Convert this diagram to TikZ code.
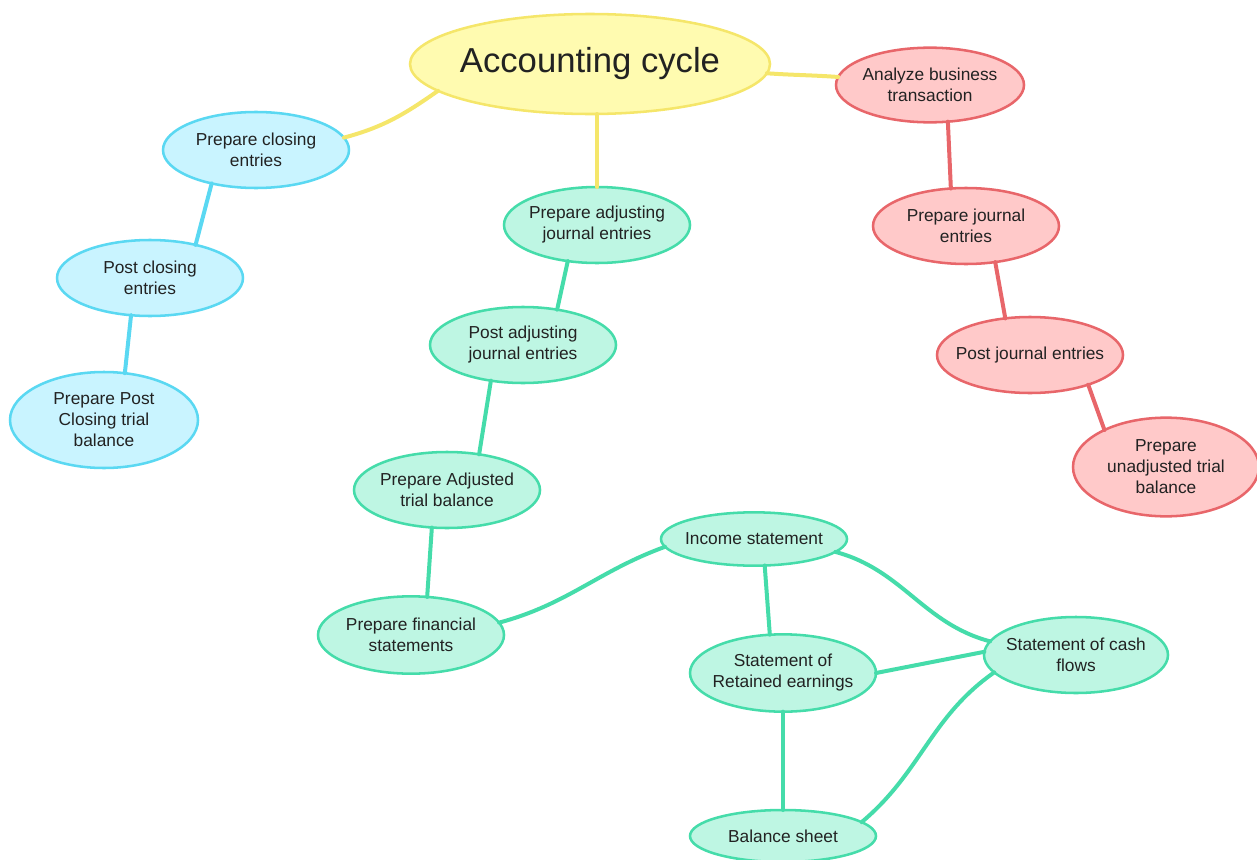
\documentclass[tikz,border=0pt]{standalone}
\usepackage{fontspec}
\setmainfont{Liberation Sans}
\usetikzlibrary{shapes.geometric}
\definecolor{ylwfill}{HTML}{FFFBB0}
\definecolor{ylwline}{HTML}{F5E66A}
\definecolor{redfill}{HTML}{FFC9C9}
\definecolor{redline}{HTML}{E8666A}
\definecolor{cyanfill}{HTML}{C9F4FF}
\definecolor{cyanline}{HTML}{5AD8F2}
\definecolor{grnfill}{HTML}{BEF6E3}
\definecolor{grnline}{HTML}{45DCAA}
\definecolor{txt}{HTML}{222222}
\begin{document}
\begin{tikzpicture}[x=0.75pt,y=-0.75pt,
    bub/.style={ellipse,line width=1.9pt,inner xsep=-6.5pt,inner ysep=0pt,outer sep=0pt,
      minimum width=139.5pt,minimum height=57pt,align=center,text=txt,
      font=\fontsize{13}{15.75}\selectfont},
    ylwbub/.style={bub,draw=ylwline,fill=ylwfill},
    redbub/.style={bub,draw=redline,fill=redfill},
    cyanbub/.style={bub,draw=cyanline,fill=cyanfill},
    grnbub/.style={bub,draw=grnline,fill=grnfill},
    link/.style={line width=3pt,line cap=round}]
    \useasboundingbox (0,0) rectangle (1257,860);
    \node [ylwbub,minimum width=270pt,minimum height=75pt,font=\fontsize{26}{31}\selectfont] (cycle) at (590,64) {Accounting cycle};
    \node [redbub,minimum width=141pt,minimum height=56pt] (analyze) at (930,85) {Analyze business\\transaction};
    \node [redbub] (prepjour) at (966,226) {Prepare journal\\entries};
    \node [redbub] (postjour) at (1030,355) {Post journal entries};
    \node [redbub,minimum width=139.5pt,minimum height=74pt] (unadj) at (1166,467) {Prepare\\unadjusted trial\\balance};
    \node [cyanbub] (prepclose) at (256,150) {Prepare closing\\entries};
    \node [cyanbub] (postclose) at (150,278) {Post closing\\entries};
    \node [cyanbub,minimum width=141pt,minimum height=72pt] (closetb) at (104,420) {Prepare Post\\Closing trial\\balance};
    \node [grnbub] (prepadj) at (597,225) {Prepare adjusting\\journal entries};
    \node [grnbub] (postadj) at (523,345) {Post adjusting\\journal entries};
    \node [grnbub] (adjtb) at (447,490) {Prepare Adjusted\\trial balance};
    \node [grnbub,minimum height=58pt] (finstat) at (411,635) {Prepare financial\\statements};
    \node [grnbub,minimum height=40pt] (income) at (754,539) {Income statement};
    \node [grnbub,minimum height=58pt] (retained) at (783,673) {Statement of\\Retained earnings};
    \node [grnbub,minimum width=138pt] (cashflow) at (1076,655) {Statement of cash\\flows};
    \node [grnbub,minimum height=39pt] (balsheet) at (783,836) {Balance sheet};
    \draw [link,ylwline] (cycle.190) to[out=215,in=15] (prepclose.8);
    \draw [link,ylwline] (cycle.-3) to[out=-4,in=176] (analyze.175);
    \draw [link,ylwline] (prepadj.north) -- (prepadj.north |- cycle.south);
    \draw [link,redline] (analyze.296) -- (prepjour.112);
    \draw [link,redline] (prepjour.309) -- (postjour.124);
    \draw [link,redline] (postjour.333) -- (unadj.149);
    \draw [link,cyanline] (prepclose.217) -- (postclose.36);
    \draw [link,cyanline] (postclose.243) -- (closetb.66);
    \draw [link,grnline] (prepadj.231) -- (postadj.46);
    \draw [link,grnline] (postadj.228) -- (adjtb.48);
    \draw [link,grnline] (adjtb.248) -- (finstat.67);
    \draw [link,grnline] (finstat.8) to[out=15,in=200] (income.185);
    \draw [link,grnline] (income.-9) to[out=-15,in=165] (cashflow.171);
    \draw [link,grnline] (income.292) -- (retained.109);
    \draw [link,grnline] (retained.east) -- (cashflow.178);
    \draw [link,grnline] (retained.south) -- (balsheet.north);
    \draw [link,grnline] (balsheet.10) to[out=40,in=215] (cashflow.192);
\end{tikzpicture}
\end{document}
